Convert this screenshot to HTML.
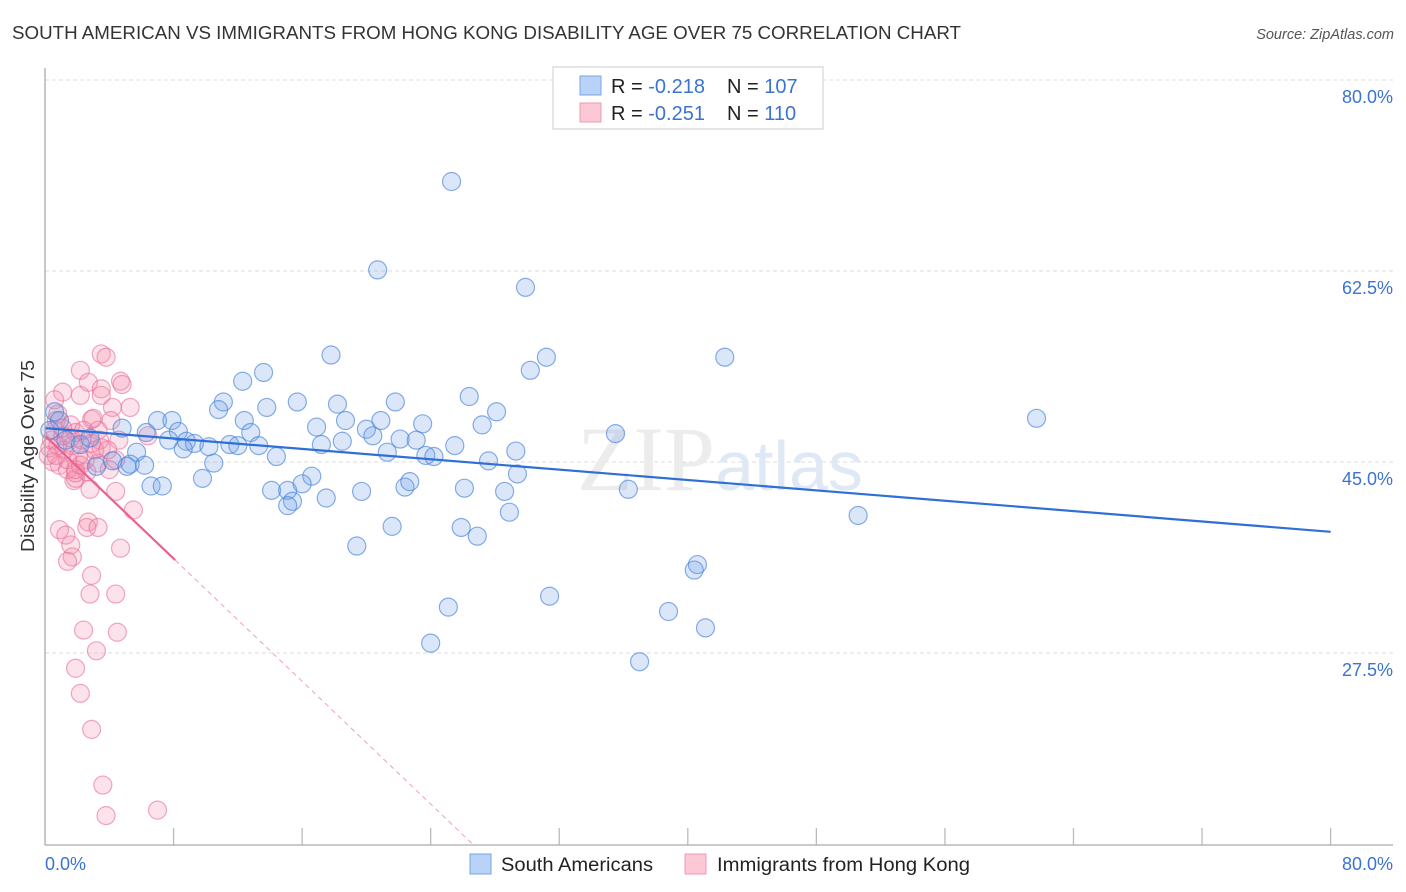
<!DOCTYPE html>
<html><head><meta charset="utf-8"><style>
body{margin:0;background:#fff;font-family:"Liberation Sans",sans-serif;}
svg{display:block}
</style></head><body>
<svg id="chart" width="1406" height="892">
<text x="12" y="39" font-size="18" fill="#333" textLength="949" lengthAdjust="spacingAndGlyphs">SOUTH AMERICAN VS IMMIGRANTS FROM HONG KONG DISABILITY AGE OVER 75 CORRELATION CHART</text>
<text x="1394" y="39" font-size="14.5" fill="#555" font-style="italic" text-anchor="end">Source: ZipAtlas.com</text>
<text x="34" y="456" font-size="18" fill="#333" text-anchor="middle" textLength="192" lengthAdjust="spacingAndGlyphs" transform="rotate(-90 34 456)">Disability Age Over 75</text>
<g id="grid"></g>
<text x="720" y="490" font-size="92" fill="#ececec" text-anchor="middle" font-family="Liberation Serif,serif">ZIP<tspan fill="#dfe8f5" font-family="Liberation Sans,sans-serif" font-size="70">atlas</tspan></text>
<g id="pts"></g>
<g id="lines"></g>
<line x1="45" y1="68" x2="45" y2="845" stroke="#aaa" stroke-width="1.3"/>
<line x1="45" y1="845" x2="1393" y2="845" stroke="#aaa" stroke-width="1.3"/>
<text x="45" y="870" font-size="18" fill="#3b73d1">0.0%</text>
<text x="1393" y="870" font-size="18" fill="#3b73d1" text-anchor="end">80.0%</text>
<g>
<rect x="553" y="67" width="270" height="62" fill="#fff" stroke="#ccc"/>
<rect x="580" y="76" width="21" height="19" fill="#b8d3f7" stroke="#7aa6e6"/>
<rect x="580" y="103" width="21" height="19" fill="#fcc8d6" stroke="#ee9ab2"/>
<text x="611" y="93" font-size="20" fill="#222">R = <tspan fill="#3b73d1">-0.218</tspan><tspan x="727">N = </tspan><tspan fill="#3b73d1">107</tspan></text>
<text x="611" y="120" font-size="20" fill="#222">R = <tspan fill="#3b73d1">-0.251</tspan><tspan x="727">N = </tspan><tspan fill="#3b73d1"> 110</tspan></text>
</g>
<g>
<rect x="470" y="854" width="21" height="20" fill="#b8d3f7" stroke="#7aa6e6"/>
<text x="501" y="871" font-size="19" fill="#222" textLength="152" lengthAdjust="spacingAndGlyphs">South Americans</text>
<rect x="685" y="854" width="21" height="20" fill="#fcc8d6" stroke="#ee9ab2"/>
<text x="717" y="871" font-size="19" fill="#222" textLength="253" lengthAdjust="spacingAndGlyphs">Immigrants from Hong Kong</text>
</g>
</svg>
<script>
const yTicks=[80,62.5,45,27.5];
const yTickLabels=["80.0%","62.5%","45.0%","27.5%"];
const xTicks=[0,8,16,24,32,40,48,56,64,72,80];
const blueX=[25.3,20.7,29.9,17.8,31.2,42.3,30.2,13.6,12.3,26.4,21.8,15.7,18.2,11.1,13.8,10.8,28.1,61.7,7.0,7.9,18.7,12.4,20.9,23.5,16.9,27.2,20.0,6.3,8.3,4.8,35.5,20.4,22.1,12.8,7.7,8.8,9.3,10.2,23.1,8.6,11.5,12.0,25.5,17.2,18.5,13.3,29.3,21.3,23.7,24.2,14.4,5.7,4.2,5.3,6.2,27.6,3.2,10.5,5.1,29.4,9.8,16.6,6.6,7.3,14.1,15.1,16.0,19.7,22.4,22.7,26.1,28.6,36.3,15.4,15.1,17.5,50.6,28.9,25.9,21.6,26.9,19.4,40.6,40.4,31.4,25.1,38.8,41.1,24.0,37.0,0.6,0.9,0.3,1.3,2.2,2.8];
const blueY=[70.7,62.6,61.0,54.8,54.6,54.6,53.4,53.2,52.4,51.0,50.5,50.5,50.3,50.5,50.0,49.8,49.6,49.0,48.8,48.8,48.8,48.8,48.8,48.5,48.2,48.4,48.0,47.7,47.8,48.1,47.6,47.4,47.1,47.7,47.0,46.9,46.7,46.4,47.0,46.2,46.6,46.5,46.5,46.6,46.9,46.5,46.0,45.9,45.6,45.5,45.5,45.9,45.1,44.8,44.7,45.1,44.6,44.9,44.6,43.9,43.5,43.7,42.8,42.8,42.4,42.4,43.0,42.3,42.7,43.2,42.6,42.3,42.5,41.4,41.0,41.7,40.1,40.4,39.0,39.1,38.2,37.3,35.6,35.1,32.7,31.7,31.3,29.8,28.4,26.7,49.6,48.8,47.9,47.0,46.6,47.2];
const pinkX=[3.5,3.8,2.2,4.7,4.8,2.7,1.1,2.2,3.5,3.5,5.3,4.2,0.8,2.9,4.1,3.3,4.6,6.4,0.9,1.3,2.7,2.6,3.3,1.6,1.7,1.4,5.5,4.4,2.8,1.8,1.9,4.7,2.9,2.8,4.4,2.4,4.5,3.2,1.9,2.2,2.9,3.6,7.0,3.8,0.6,0.7,1.6,1.9,1.2,0.4,0.2,0.5,0.9,1.4,2.5,3.1,2.1,1.1,2.3,1.7,0.3,0.8,3.4,3.9,2.6,1.9,1.4,2.9,3.3,4.0,0.6,1.1,1.9,2.2,3.5,0.7,1.6,2.4,3.0,4.4];
const pinkY=[54.9,54.6,53.4,52.4,52.1,52.3,51.4,51.1,51.7,51.1,50.0,50.0,49.4,48.9,48.8,47.9,47.0,47.4,38.8,38.3,39.5,39.0,39.0,37.4,36.3,35.9,40.6,42.3,42.5,43.3,43.5,37.1,34.6,32.9,32.9,29.6,29.4,27.7,26.1,23.8,20.5,15.4,13.1,12.6,50.7,48.8,48.4,47.7,46.1,47.0,45.6,45.0,44.7,44.3,45.2,46.1,45.6,47.4,47.0,46.5,46.3,46.5,47.0,46.1,44.1,44.0,45.2,46.7,44.9,44.3,47.9,48.1,44.3,44.7,46.3,45.6,47.2,47.9,49.0,45.2];
const blueTrend=[48.1,38.6];
const pinkTrend=[47.4,-1.406];
const pinkSolidEnd=8.1, pinkDashEnd=26.6;

const NS="http://www.w3.org/2000/svg";
const X=v=>45+v*16.07;
const Y=v=>80+(80-v)*10.914;
function mk(tag,attrs,parent){const e=document.createElementNS(NS,tag);for(const k in attrs)e.setAttribute(k,attrs[k]);parent.appendChild(e);return e;}
const grid=document.getElementById('grid');
yTicks.forEach((t,i)=>{
 const l=mk('line',{x1:45,x2:1393,y1:Y(t),y2:Y(t),stroke:'#ddd','stroke-dasharray':'4 3'},grid);
 
 
 const tx=mk('text',{x:1393,y:Y(t)+23,'font-size':18,fill:'#3b73d1','text-anchor':'end'},grid);
 tx.textContent=yTickLabels[i];
 
 
});
xTicks.forEach(t=>{
 if(t===0)return;
 const l=mk('line',{x1:X(t),x2:X(t),y1:828,y2:845,stroke:'#bbb','stroke-width':1.3},grid);
 
 
});
const pts=document.getElementById('pts');
pinkX.forEach((x,i)=>{
 const c=mk('circle',{cx:X(x),cy:Y(pinkY[i]),r:9,fill:'rgba(243,140,170,0.25)',stroke:'rgba(232,110,150,0.6)','stroke-width':1.2},pts);
 
 
});
blueX.forEach((x,i)=>{
 const c=mk('circle',{cx:X(x),cy:Y(blueY[i]),r:9,fill:'rgba(110,160,230,0.25)',stroke:'rgba(70,130,220,0.65)','stroke-width':1.2},pts);
 
 
});
const lines=document.getElementById('lines');
let b=mk('line',{x1:X(0),y1:Y(blueTrend[0]),x2:X(80),y2:Y(blueTrend[1]),stroke:'#2f6fd6','stroke-width':2.2},lines);


const pf=x=>pinkTrend[0]+pinkTrend[1]*x;
let p=mk('line',{x1:X(0),y1:Y(pf(0)),x2:X(pinkSolidEnd),y2:Y(pf(pinkSolidEnd)),stroke:'#e8638f','stroke-width':2.2},lines);


let pd=mk('line',{x1:X(pinkSolidEnd),y1:Y(pf(pinkSolidEnd)),x2:X(pinkDashEnd),y2:Y(pf(pinkDashEnd)),stroke:'#f0a0b8','stroke-width':1,'stroke-dasharray':'5 4'},lines);


</script>
</body></html>
